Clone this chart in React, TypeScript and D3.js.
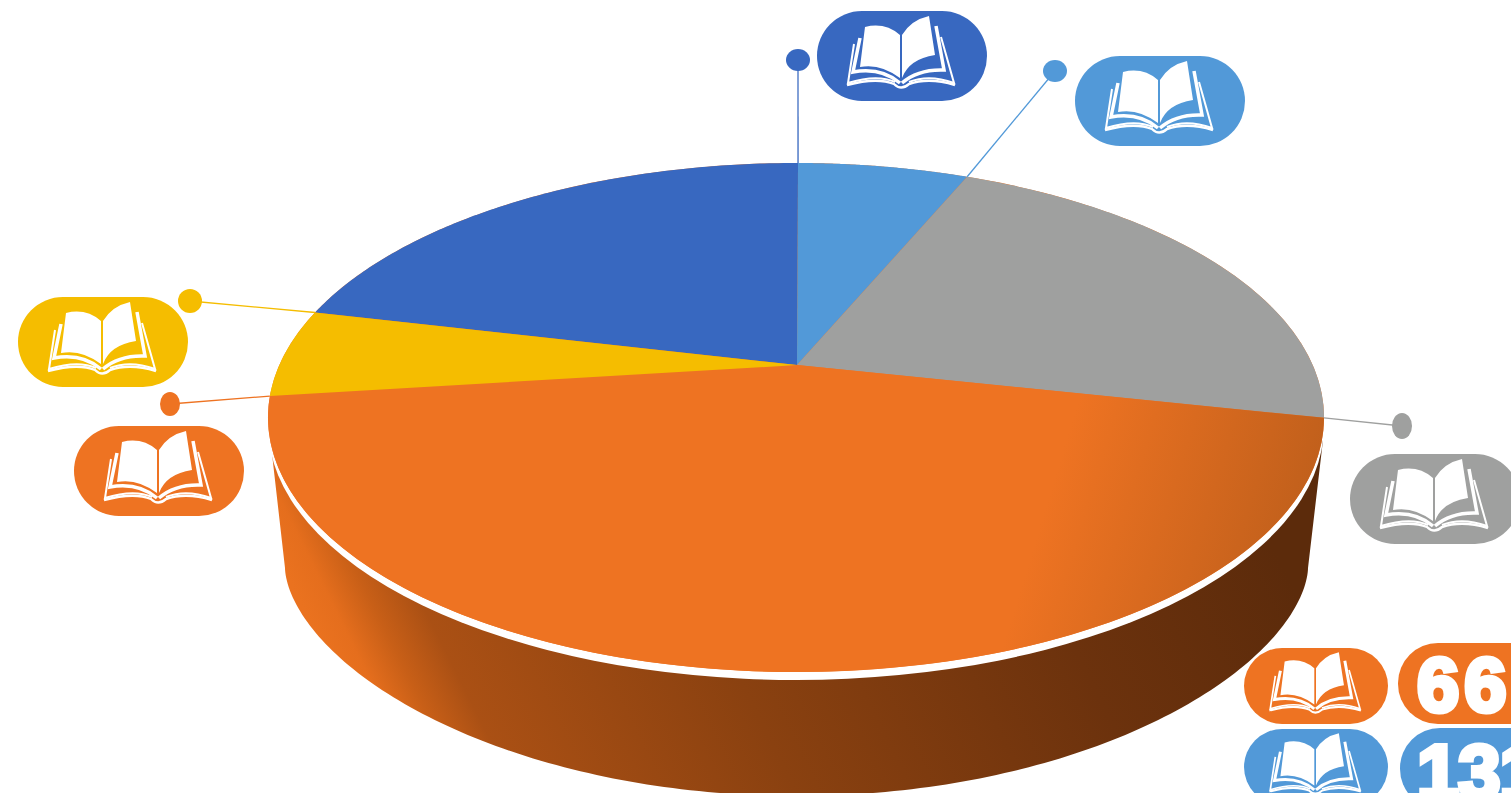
import React from "react";
import * as d3 from "d3";

const sliceNames = ["Blue", "Light blue", "Grey", "Orange", "Yellow"];
const sliceShares = [21.45, 6.37, 21.88, 44.7, 5.6];
const sliceColors = ["#3868c0", "#5299d8", "#9fa09f", "#ee7322", "#f5bd00"];
const legendLabels = ["666", "131"];
const legendColors = ["#ee7322", "#5299d8"];

const firstSliceStartDeg = -76.95;
const calloutDots = [
  { dx: 798, dy: 60, rx: 12, ry: 11 },
  { dx: 1055, dy: 71, rx: 12, ry: 11 },
  { dx: 1402, dy: 426, rx: 10, ry: 13 },
  { dx: 170, dy: 404, rx: 10, ry: 12 },
  { dx: 190, dy: 301, rx: 12, ry: 12 },
];
const calloutPills = [
  [817, 11],
  [1075, 56],
  [1350, 454],
  [74, 426],
  [18, 297],
];
const legendLayout = [
  { iconY: 648, pillX: 1398, pillY: 643, textX: 1417, baseY: 711, spacing: 5 },
  { iconY: 729, pillX: 1400, pillY: 728, textX: 1417, baseY: 798, spacing: -1 },
];

const cx = 796, cy = 417.5, rx = 528, ry = 254.5, persp = 0.206;
const project = (a: number): [number, number] => {
  const u = Math.sin(a), v = -Math.cos(a);
  const w = 1 - persp * v;
  return [cx + (rx * Math.sqrt(1 - persp * persp) * u) / w, cy + (ry * (v - persp)) / w];
};
const apex: [number, number] = [797, cy - ry * persp];
const lineGen = d3.line<[number, number]>();
const startRad = (firstSliceStartDeg * Math.PI) / 180;
const arcs = d3.pie<number>().sort(null).startAngle(startRad).endAngle(startRad + Math.PI * 2)(sliceShares);
const color = d3.scaleOrdinal<string, string>().domain(sliceNames).range(sliceColors);
const slicePath = (s: number, e: number) => {
  const pts = d3.range(0, 121).map((i) => project(s + ((e - s) * i) / 120));
  return lineGen([apex, ...pts])! + "Z";
};

const wallX0 = 285, wallX1 = 1308, wallCy = 568, wallRy = 228;
const wallCx = (wallX0 + wallX1) / 2, wallRx = (wallX1 - wallX0) / 2;
const wallArc = d3.range(0, 181).map((i): [number, number] => {
  const t = Math.PI - (Math.PI * i) / 180;
  return [wallCx + wallRx * Math.cos(t), wallCy + wallRy * Math.pow(Math.sin(t), 1.17)];
});
const wallPath = lineGen([[271, 445], ...wallArc, [1323, 440]])! + "Z";

function Book({ x, y, w, h, c }: { x: number; y: number; w: number; h: number; c: string }) {
  return (
    <g transform={`translate(${x},${y}) scale(${w / 170},${h / 90})`}>
      <rect width={170} height={90} rx={45} ry={45} fill={c} />
      <path d="M48,16 Q68,11 83,24 L83,67 Q63,52 43,56 Z" fill="#fff" />
      <path d="M85,24 Q94,9 112,5 L118,44 Q92,48 85,67 Z" fill="#fff" />
      <path d="M43,27 L36,61 Q64,56 83,72 M119,15 L127,59 Q101,58 85,72" fill="none" stroke="#fff" strokeWidth={3.5} />
      <path d="M37,33 L31,72 Q60,63 78,71 M124,26 L137,72 Q112,63 92,71" fill="none" stroke="#fff" strokeWidth={2} />
      <path d="M30,74 Q60,66 77,73 Q84,80 92,73 Q112,66 138,74" fill="none" stroke="#fff" strokeWidth={2.4} />
    </g>
  );
}

export default function App() {
  return (
    <svg width={1511} height={793} style={{ position: "absolute", left: 0, top: 0, background: "#fff" }}>
      <defs>
        <linearGradient id="wall" gradientUnits="userSpaceOnUse" x1={300} y1={600} x2={1100} y2={200}>
          <stop offset="0" stopColor="#ea721f" />
          <stop offset="0.03" stopColor="#e56e1d" />
          <stop offset="0.07" stopColor="#c85f17" />
          <stop offset="0.12" stopColor="#aa5014" />
          <stop offset="0.4" stopColor="#8a4110" />
          <stop offset="0.75" stopColor="#6c320d" />
          <stop offset="1" stopColor="#5c2b0b" />
        </linearGradient>
        <linearGradient id="top" gradientUnits="userSpaceOnUse" x1={1060} y1={460} x2={1320} y2={540}>
          <stop offset="0" stopColor="#ee7322" />
          <stop offset="1" stopColor="#bd5e1b" />
        </linearGradient>
      </defs>
      <path d={wallPath} fill="url(#wall)" />
      <ellipse cx={cx} cy={cy + 8} rx={rx} ry={ry} fill="#fff" />
      <ellipse cx={cx} cy={cy} rx={rx} ry={ry} fill="#ee7322" />
      {arcs.map((a, i) => (
        <path
          key={sliceNames[i]}
          d={slicePath(a.startAngle, a.endAngle)}
          fill={sliceNames[i] === "Orange" ? "url(#top)" : color(sliceNames[i])}
        />
      ))}
      {calloutDots.map((d, i) => {
        const [ex, ey] = project(arcs[i].endAngle);
        return (
          <g key={i}>
            <line x1={d.dx} y1={d.dy} x2={ex} y2={ey} stroke={sliceColors[i]} strokeWidth={1.3} />
            <ellipse cx={d.dx} cy={d.dy} rx={d.rx} ry={d.ry} fill={sliceColors[i]} />
          </g>
        );
      })}
      {calloutPills.map(([x, y], i) => (
        <Book key={i} x={x} y={y} w={170} h={90} c={sliceColors[i]} />
      ))}
      {legendLabels.map((label, i) => {
        const l = legendLayout[i];
        return (
          <g key={label}>
            <Book x={1244} y={l.iconY} w={144} h={76} c={legendColors[i]} />
            <rect x={l.pillX} y={l.pillY} width={170} height={81} rx={40} fill={legendColors[i]} />
            <text
              x={l.textX}
              y={l.baseY}
              fill="#fff"
              stroke="#fff"
              strokeWidth={5}
              fontFamily="'Liberation Sans', sans-serif"
              fontWeight={700}
              fontSize={76}
              letterSpacing={l.spacing}
            >
              {label}
            </text>
          </g>
        );
      })}
    </svg>
  );
}
